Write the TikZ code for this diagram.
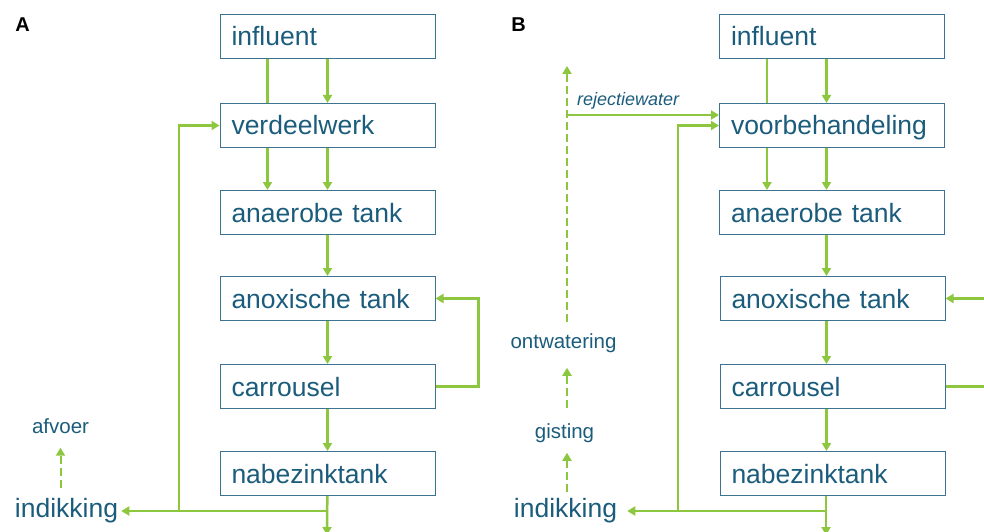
\documentclass[tikz,border=0pt]{standalone}
\usepackage{fontspec}
\setmainfont{Liberation Sans}
\usetikzlibrary{arrows.meta}

\definecolor{tankblue}{HTML}{1B5C7C}
\definecolor{edgeblue}{HTML}{3C7391}
\definecolor{pipegreen}{HTML}{8DC63F}

\newcommand{\tankfont}{\fontsize{26.5}{30}\selectfont}
\newcommand{\sidefont}{\fontsize{20.5}{24}\selectfont}
\newcommand{\rejfont}{\fontsize{18}{21}\selectfont\itshape}
\newcommand{\panelfont}{\fontsize{20}{24}\selectfont\bfseries}

\tikzset{
  tank/.style = {draw=edgeblue, line width=1pt, text=tankblue, font=\tankfont,
    anchor=north west, minimum height=44pt, text width=192pt, inner xsep=11.5pt,
    inner ysep=0pt, text height=22pt, text depth=3pt, align=left},
  widetank/.style = {tank, text width=202pt},
  side/.style = {text=tankblue, inner sep=0pt},
  pipe/.style = {draw=pipegreen, line width=2.5pt},
  flow/.style = {pipe, -{Triangle[length=8pt,width=9pt]}},
  sludge/.style = {flow, line width=2pt, dash pattern=on 8pt off 4pt},
}

\begin{document}
\begin{tikzpicture}[x=1pt, y=-1pt]
  \useasboundingbox (0,0) rectangle (984,532);

  % A
  \node[font=\panelfont] (A-tag) at (22.5,24.5) {A};
  \node[tank] (A-infl) at (219.5,14) {influent};
  \node[tank] (A-verd) at (219.5,103) {verdeelwerk};
  \node[tank] (A-anae) at (219.5,190) {anaerobe tank};
  \node[tank] (A-anox) at (219.5,276) {anoxische tank};
  \node[tank] (A-carr) at (219.5,364) {carrousel};
  \node[tank] (A-nabe) at (219.5,451) {nabezinktank};
  \node[side, font=\tankfont] (A-ind) at (66.5,511) {indikking};
  \node[side, font=\sidefont] (A-afv) at (60.5,426) {afvoer};
  \coordinate (A-split) at (327,511);
  \coordinate (A-ret) at (179,511);
  \coordinate (A-out) at (327,535);

  \draw[pipe] ([xshift=-60pt]A-infl.south) -- ([xshift=-60pt]A-verd.north);
  \draw[flow] (A-infl) -- (A-verd);
  \draw[flow] ([xshift=-60pt]A-verd.south) -- ([xshift=-60pt]A-anae.north);
  \draw[flow] (A-verd) -- (A-anae);
  \draw[flow] (A-anae) -- (A-anox);
  \draw[flow] (A-anox) -- (A-carr);
  \draw[flow] (A-carr) -- (A-nabe);
  \draw[flow] (A-nabe) -- (A-out);
  \draw[flow, shorten >=3pt] (A-split) -- (A-ind);
  \draw[flow] (A-ret) |- (A-verd.west);
  \draw[flow] (A-carr.east) -- ++(43,0) |- (A-anox.east);
  \draw[sludge, shorten <=10pt, shorten >=14pt] (A-afv |- A-ind.north) -- (A-afv);

  % B
  \node[font=\panelfont] (B-tag) at (518.5,24.5) {B};
  \node[widetank] (B-infl) at (719,14) {influent};
  \node[widetank] (B-voor) at (719,103) {voorbehandeling};
  \node[widetank] (B-anae) at (719,190) {anaerobe tank};
  \node[widetank] (B-anox) at (719.5,276) {anoxische tank};
  \node[widetank] (B-carr) at (719.5,364) {carrousel};
  \node[widetank] (B-nabe) at (719.5,451) {nabezinktank};
  \node[side, font=\tankfont] (B-ind) at (565.5,511) {indikking};
  \node[side, font=\sidefont] (B-gis) at (564.5,433) {gisting};
  \node[side, font=\sidefont] (B-ont) at (563.5,343) {ontwatering};
  \node[side, font=\rejfont, anchor=west] (B-rjl) at (577,101) {rejectiewater};
  \coordinate (B-top) at (567,66);
  \coordinate (B-rjt) at (567,115);
  \coordinate (B-split) at (826,511);
  \coordinate (B-ret) at (678,511);
  \coordinate (B-out) at (826,535);

  \draw[pipe] ([xshift=-65pt]B-infl.south) -- ([xshift=-65pt]B-voor.north);
  \draw[flow] ([xshift=-5.5pt]B-infl.south) -- ([xshift=-5.5pt]B-voor.north);
  \draw[flow] ([xshift=-65pt]B-voor.south) -- ([xshift=-65pt]B-anae.north);
  \draw[flow] ([xshift=-5.5pt]B-voor.south) -- ([xshift=-5.5pt]B-anae.north);
  \draw[flow] ([xshift=-5.5pt]B-anae.south) -- ([xshift=-6pt]B-anox.north);
  \draw[flow] ([xshift=-6pt]B-anox.south) -- ([xshift=-6pt]B-carr.north);
  \draw[flow] ([xshift=-6pt]B-carr.south) -- ([xshift=-6pt]B-nabe.north);
  \draw[flow] (B-split |- B-nabe.south) -- (B-out);
  \draw[flow, shorten >=10pt] (B-split) -- (B-ind);
  \draw[flow] (B-ret) |- (B-voor.west);
  \draw[flow] (B-rjt) -- (B-rjt -| B-voor.west);
  \draw[flow] (B-carr.east) -- ++(50,0) |- (B-anox.east);
  \draw[sludge, shorten <=6pt, shorten >=10pt] (B-top |- B-ind.north) -- (B-top |- B-gis.south);
  \draw[sludge, shorten <=15pt, shorten >=15pt] (B-top |- B-gis.north) -- (B-top |- B-ont.south);
  \draw[sludge, shorten <=11pt] (B-top |- B-ont.north) -- (B-top);
\end{tikzpicture}
\end{document}
